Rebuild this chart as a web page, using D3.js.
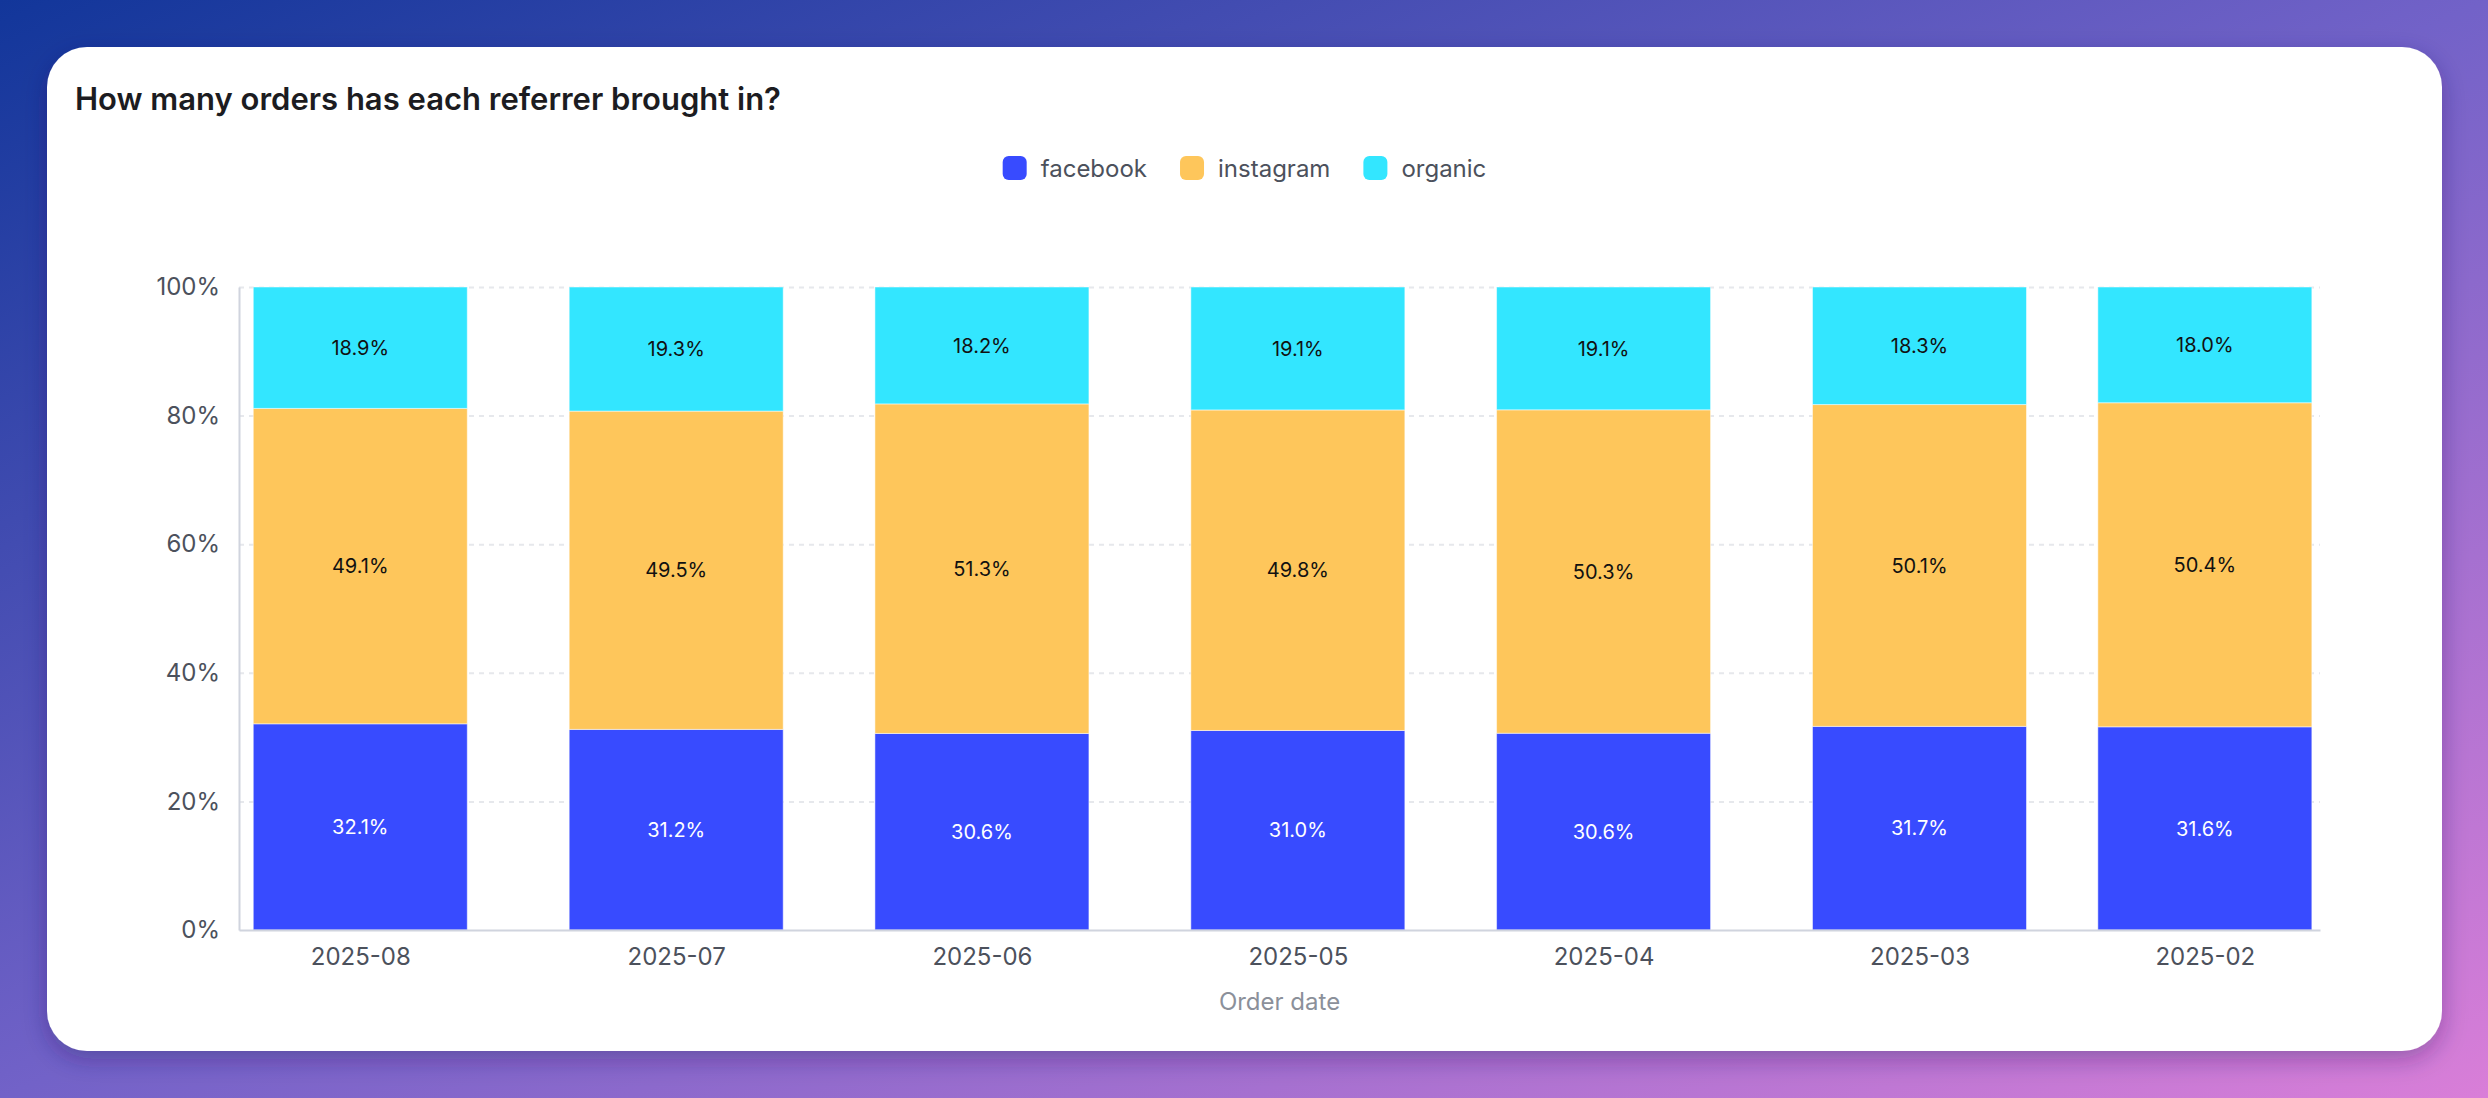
<!DOCTYPE html>
<html>
<head>
<meta charset="utf-8">
<script src="https://cdn.jsdelivr.net/npm/d3@7"></script>
<style>
  html, body { margin: 0; padding: 0; }
  body { width: 2488px; height: 1098px; overflow: hidden; font-family: Inter, "Noto Sans", sans-serif; }
  .axis text { font-family: Inter, "Noto Sans", sans-serif; }
</style>
</head>
<body>
<svg id="chart" width="2488" height="1098"></svg>
<script>
// data
var months = ["2025-08", "2025-07", "2025-06", "2025-05", "2025-04", "2025-03", "2025-02"];
var facebook = [32.1, 31.2, 30.6, 31.0, 30.6, 31.7, 31.6];
var instagram = [49.1, 49.5, 51.3, 49.8, 50.3, 50.1, 50.4];
var organic = [18.9, 19.3, 18.2, 19.1, 19.1, 18.3, 18.0];
var seriesNames = ["facebook", "instagram", "organic"];
var seriesColors = ["#384bff", "#fec65b", "#33e6ff"];
var labelColors = ["#ffffff", "#111111", "#111111"];
var yTicks = [0, 0.2, 0.4, 0.6, 0.8, 1];

var parseMonth = d3.utcParse("%Y-%m");
var rows = months.map(function (m, i) {
  return { date: parseMonth(m), facebook: facebook[i], instagram: instagram[i], organic: organic[i] };
});

var svg = d3.select("#chart"),
  W = 2488, H = 1098,
  card = { x: 47, y: 47, w: 2395, h: 1004, r: 40 },
  plot = { left: 239, right: 2320, top: 287, bottom: 930 },
  day = 864e5;

// background gradient
var defs = svg.append("defs");
var bg = defs.append("linearGradient").attr("id", "bg")
  .attr("x1", 0).attr("y1", 0).attr("x2", 1).attr("y2", 1);
bg.append("stop").attr("offset", "0%").attr("stop-color", "#12369a");
bg.append("stop").attr("offset", "50%").attr("stop-color", "#7262c8");
bg.append("stop").attr("offset", "100%").attr("stop-color", "#d97ed8");

var shadow = defs.append("filter").attr("id", "shadow")
  .attr("x", "-5%").attr("y", "-5%").attr("width", "110%").attr("height", "115%");
shadow.append("feDropShadow").attr("dx", 0).attr("dy", 8).attr("stdDeviation", 12)
  .attr("flood-color", "#2a1a60").attr("flood-opacity", 0.35);

svg.append("rect").attr("width", W).attr("height", H).attr("fill", "url(#bg)");

svg.append("rect")
  .attr("x", card.x).attr("y", card.y)
  .attr("width", card.w).attr("height", card.h)
  .attr("rx", card.r).attr("fill", "#ffffff")
  .attr("filter", "url(#shadow)");

// title
svg.append("text")
  .attr("x", 75).attr("y", 110)
  .attr("font-size", 31).attr("font-weight", 600)
  .attr("fill", "#1c1c21")
  .text("How many orders has each referrer brought in?");

// scales - months sit on a time scale, newest on the left
var firstDate = d3.min(rows, function (d) { return d.date; }),
  lastDate = d3.max(rows, function (d) { return d.date; });

var x = d3.scaleUtc()
  .domain([new Date(+firstDate - 11.3 * day), new Date(+lastDate + 11.9 * day)])
  .range([plot.right, plot.left]);

var y = d3.scaleLinear().domain([0, 1]).range([plot.bottom, plot.top]);

var barWidth = Math.abs(x(new Date(+firstDate + 21 * day)) - x(firstDate));

// gridlines
svg.append("g")
  .attr("class", "grid")
  .attr("transform", "translate(" + plot.left + ",0)")
  .call(d3.axisLeft(y).tickValues(yTicks.slice(1)).tickSize(-(plot.right - plot.left)).tickFormat(""))
  .call(function (g) { g.select(".domain").remove(); })
  .selectAll("line")
  .attr("stroke", "#e6e8ec")
  .attr("stroke-width", 2)
  .attr("stroke-dasharray", "5,5");

// stacked bars
var stack = d3.stack().keys(seriesNames).offset(d3.stackOffsetExpand);
var layers = stack(rows);

var layer = svg.append("g").selectAll(".layer")
  .data(layers)
  .enter().append("g")
  .attr("class", "layer")
  .attr("fill", function (d, i) { return seriesColors[i]; });

layer.selectAll("rect")
  .data(function (d) { return d; })
  .enter().append("rect")
  .attr("x", function (d) { return x(d.data.date) - barWidth / 2; })
  .attr("width", barWidth)
  .attr("y", function (d) { return y(d[1]); })
  .attr("height", function (d) { return y(d[0]) - y(d[1]); })
  .attr("stroke", "#ffffff")
  .attr("stroke-opacity", 0.5)
  .attr("stroke-width", 1);

// segment labels
layer.selectAll("text")
  .data(function (d, i) { return d.map(function (p) { return { p: p, key: d.key, i: i }; }); })
  .enter().append("text")
  .attr("x", function (d) { return x(d.p.data.date); })
  .attr("y", function (d) { return (y(d.p[0]) + y(d.p[1])) / 2; })
  .attr("dy", "0.36em")
  .attr("text-anchor", "middle")
  .attr("font-size", 20)
  .attr("fill", function (d) { return labelColors[d.i]; })
  .text(function (d) { return d.p.data[d.key].toFixed(1) + "%"; });

// y axis
var yAxis = svg.append("g")
  .attr("class", "axis")
  .attr("transform", "translate(" + plot.left + ",0)")
  .call(d3.axisLeft(y).tickValues(yTicks).tickFormat(d3.format(".0%")).tickSize(0).tickPadding(19));
yAxis.select(".domain").attr("stroke", "#d0d4de").attr("stroke-width", 2);
yAxis.selectAll("text").attr("font-size", 24).attr("fill", "#4c515c");

// x axis
var xAxis = svg.append("g")
  .attr("class", "axis")
  .attr("transform", "translate(0," + plot.bottom + ")")
  .call(d3.axisBottom(x).tickValues(rows.map(function (d) { return d.date; }))
    .tickFormat(d3.utcFormat("%Y-%m")).tickSize(0).tickPadding(18));
xAxis.select(".domain").attr("stroke", "#d0d4de").attr("stroke-width", 2);
xAxis.selectAll("text").attr("font-size", 24).attr("fill", "#4c515c");

svg.append("text")
  .attr("x", (plot.left + plot.right) / 2)
  .attr("y", 1010)
  .attr("text-anchor", "middle")
  .attr("font-size", 24)
  .attr("fill", "#8b909a")
  .text("Order date");

// legend, centred on the card
var legend = svg.append("g").attr("class", "legend");
var items = legend.selectAll("g")
  .data(seriesNames)
  .enter().append("g");

items.append("rect")
  .attr("width", 24).attr("height", 24).attr("rx", 6)
  .attr("y", 156)
  .attr("fill", function (d, i) { return seriesColors[i]; });

items.append("text")
  .attr("x", 38).attr("y", 177)
  .attr("font-size", 24)
  .attr("fill", "#4c515c")
  .text(function (d) { return d; });

var offset = 0;
items.each(function () {
  var g = d3.select(this);
  g.attr("transform", "translate(" + offset + ",0)");
  offset += 38 + g.select("text").node().getComputedTextLength() + 33;
});
var legendWidth = offset - 33;
legend.attr("transform", "translate(" + (card.x + card.w / 2 - legendWidth / 2) + ",0)");
</script>
</body>
</html>
